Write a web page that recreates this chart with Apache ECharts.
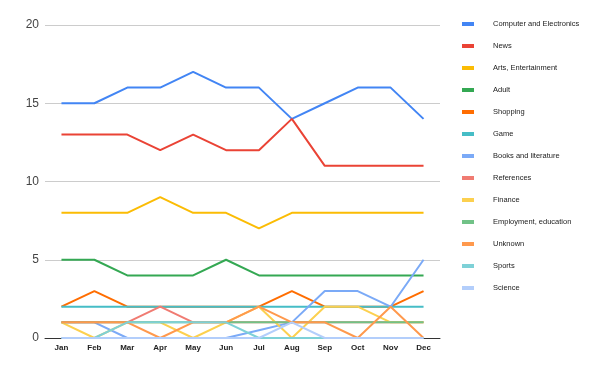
<!DOCTYPE html>
<html><head><meta charset="utf-8">
<script src="https://cdn.jsdelivr.net/npm/echarts@6/dist/echarts.min.js"></script>
<style>html,body{margin:0;padding:0;background:#fff}#c{width:600px;height:371px}</style>
</head><body><div id="c"></div>
<script>
const months = ['Jan','Feb','Mar','Apr','May','Jun','Jul','Aug','Sep','Oct','Nov','Dec'];
const yTicks = [0, 5, 10, 15, 20];
const computer   = [15,15,16,16,17,16,16,14,15,16,16,14];
const news       = [13,13,13,12,13,12,12,14,11,11,11,11];
const arts       = [8,8,8,9,8,8,7,8,8,8,8,8];
const adult      = [5,5,4,4,4,5,4,4,4,4,4,4];
const shopping   = [2,3,2,2,2,2,2,3,2,2,2,3];
const game       = [2,2,2,2,2,2,2,2,2,2,2,2];
const books      = [1,1,0,0,0,0,0.5,1,3,3,2,5];
const references = [1,1,1,2,1,1,1,1,1,1,1,1];
const finance    = [1,0,1,1,0,1,2,0,2,2,1,1];
const employment = [1,1,1,1,1,1,1,1,1,1,1,1];
const unknown    = [1,1,1,0,1,1,2,1,1,0,2,0];
const sports     = [0,0,1,1,1,1,0,0,0,0,0,0];
const science    = [0,0,0,0,0,0,0,1,0,0,0,0];

const seriesDefs = [
  ['Computer and Electronics', computer, '#4285f4'],
  ['News', news, '#ea4335'],
  ['Arts, Entertainment', arts, '#fbbc04'],
  ['Adult', adult, '#34a853'],
  ['Shopping', shopping, '#ff6d01'],
  ['Game', game, '#46bdc6'],
  ['Books and literature', books, '#7baaf7'],
  ['References', references, '#f07b72'],
  ['Finance', finance, '#fcd04f'],
  ['Employment, education', employment, '#71c287'],
  ['Unknown', unknown, '#ff994d'],
  ['Sports', sports, '#7ed1d7'],
  ['Science', science, '#b3cefb']
];

const chart = echarts.init(document.getElementById('c'), null, {renderer:'canvas'});
chart.setOption({
  animation: false,
  color: seriesDefs.map(s => s[2]),
  grid: {left: 45, top: 25, width: 395, bottom: 33, containLabel: false},
  legend: {
    orient: 'vertical', left: 457, top: 14,
    itemWidth: 12, itemHeight: 4, itemGap: 12,
    icon: 'rect',
    textStyle: {fontSize: 7.5, color: '#222', fontFamily: 'Liberation Sans, Arial', padding: [0,0,0,14], lineHeight: 10},
    data: seriesDefs.map(s => s[0])
  },
  xAxis: {
    type: 'category', data: months, boundaryGap: true,
    axisLine: {lineStyle: {color: '#333', width: 1}},
    axisTick: {show: false},
    axisLabel: {fontSize: 8, color: '#222', fontWeight: 'bold', margin: 6, fontFamily: 'Liberation Sans, Arial'}
  },
  yAxis: {
    type: 'value', min: 0, max: 20, interval: 5,
    axisLine: {show: false}, axisTick: {show: false},
    splitLine: {lineStyle: {color: '#ccc', width: 1}},
    axisLabel: {fontSize: 12, color: '#444', margin: 6, fontFamily: 'Liberation Sans, Arial',
      formatter: v => yTicks.includes(v) ? String(v) : ''}
  },
  series: seriesDefs.map(s => ({
    name: s[0], type: 'line', data: s[1], showSymbol: false, symbol: 'none',
    lineStyle: {width: 2, color: s[2]}, itemStyle: {color: s[2]}
  }))
});
</script></body></html>
